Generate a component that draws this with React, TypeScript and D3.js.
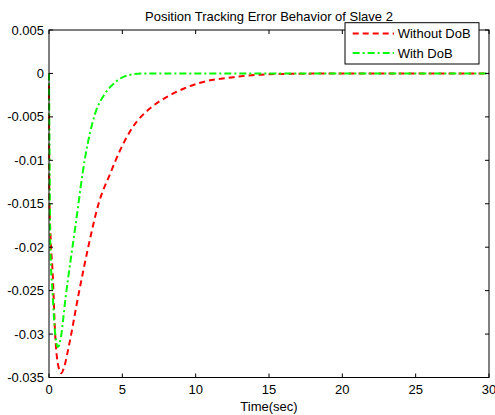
import React from "react";
import * as d3 from "d3";

const title = "Position Tracking Error Behavior of Slave 2";
const xLabel = "Time(sec)";
const xTicks = [0, 5, 10, 15, 20, 25, 30];
const yTicks = [0.005, 0, -0.005, -0.01, -0.015, -0.02, -0.025, -0.03, -0.035];
const seriesNames = ["Without DoB", "With DoB"];

const timeWithout = [0, 0.02, 0.1, 0.25, 0.43, 0.65, 0.84, 1.05, 1.34, 2.02, 2.7, 3.38, 4.18, 4.86, 5.7, 6.9, 8.04, 9.17, 10.3, 12.57, 14.85, 17.5, 20, 25, 30];
const valuesWithout = [0, -0.0138, -0.0185, -0.023, -0.0303, -0.0338, -0.0345, -0.0337, -0.0315, -0.0254, -0.0198, -0.015, -0.0115, -0.0088, -0.0062, -0.004, -0.0027, -0.00176, -0.00107, -0.00043, -0.0001, -0.00003, 0, 0, 0];

const timeWith = [0, 0.03, 0.09, 0.25, 0.38, 0.5, 0.61, 0.8, 1.11, 1.79, 2.47, 3.15, 3.83, 4.52, 5.4, 6.5, 10, 20, 30];
const valuesWith = [0, -0.008, -0.02, -0.0254, -0.0292, -0.031, -0.0315, -0.0305, -0.0261, -0.0177, -0.0096, -0.0046, -0.0023, -0.001, -0.0002, 0, 0, 0, 0];

const W = 495, H = 415;
const M = { left: 49, right: 489, top: 30, bottom: 377.5 };

export default function App() {
  const x = d3.scaleLinear().domain([0, 30]).range([M.left, M.right]);
  const y = d3.scaleLinear().domain([-0.035, 0.005]).range([M.bottom, M.top]);
  const line = d3.line<[number, number]>().x(d => x(d[0])).y(d => y(d[1])).curve(d3.curveMonotoneX);
  const redPath = line(timeWithout.map((t, i) => [t, valuesWithout[i]]) as [number, number][]) || "";
  const greenPath = line(timeWith.map((t, i) => [t, valuesWith[i]]) as [number, number][]) || "";
  const font = "Liberation Sans, Arial, sans-serif";
  const fs = 13;
  const fmt = (v: number) => (v === 0 ? "0" : String(+v.toFixed(3)));
  const tl = 4;
  const lx0 = 345, ly0 = 22.7, lw = 134, lh = 41.3;
  return (
    <svg width={W} height={H} style={{ position: "absolute", left: 0, top: 0, background: "#fff" }}>
      <rect x={0} y={0} width={W} height={H} fill="#fff" />
      <defs>
        <clipPath id="clip">
          <rect x={M.left - 2} y={M.top} width={M.right - M.left + 4} height={M.bottom - M.top} />
        </clipPath>
      </defs>
      <g clipPath="url(#clip)">
        <path d={redPath} fill="none" stroke="#ff0000" strokeWidth={2} strokeDasharray="6,4" />
        <path d={greenPath} fill="none" stroke="#00ff00" strokeWidth={2} strokeDasharray="7,3,2,3" />
      </g>
      <rect x={M.left} y={M.top} width={M.right - M.left} height={M.bottom - M.top} fill="none" stroke="#000" strokeWidth={1} />
      {xTicks.map(t => (
        <g key={"x" + t}>
          <line x1={x(t)} x2={x(t)} y1={M.bottom} y2={M.bottom - tl} stroke="#000" />
          <line x1={x(t)} x2={x(t)} y1={M.top} y2={M.top + tl} stroke="#000" />
          <text x={x(t)} y={M.bottom + 16} textAnchor="middle" fontFamily={font} fontSize={fs}>{t}</text>
        </g>
      ))}
      {yTicks.map(v => (
        <g key={"y" + v}>
          <line x1={M.left} x2={M.left + tl} y1={y(v)} y2={y(v)} stroke="#000" />
          <line x1={M.right} x2={M.right - tl} y1={y(v)} y2={y(v)} stroke="#000" />
          <text x={M.left - 5} y={y(v) + 4.5} textAnchor="end" fontFamily={font} fontSize={fs}>{fmt(v)}</text>
        </g>
      ))}
      <text x={(M.left + M.right) / 2} y={21} textAnchor="middle" fontFamily={font} fontSize={fs}>{title}</text>
      <text x={(M.left + M.right) / 2} y={411} textAnchor="middle" fontFamily={font} fontSize={fs}>{xLabel}</text>
      <rect x={lx0} y={ly0} width={lw} height={lh} fill="#fff" stroke="#000" strokeWidth={1} />
      <line x1={352.7} x2={394} y1={33.5} y2={33.5} stroke="#ff0000" strokeWidth={2} strokeDasharray="6,4" />
      <text x={397.7} y={38} fontFamily={font} fontSize={fs}>{seriesNames[0]}</text>
      <line x1={352.7} x2={394} y1={53} y2={53} stroke="#00ff00" strokeWidth={2} strokeDasharray="7,3,2,3" />
      <text x={397.7} y={57.5} fontFamily={font} fontSize={fs}>{seriesNames[1]}</text>
    </svg>
  );
}
